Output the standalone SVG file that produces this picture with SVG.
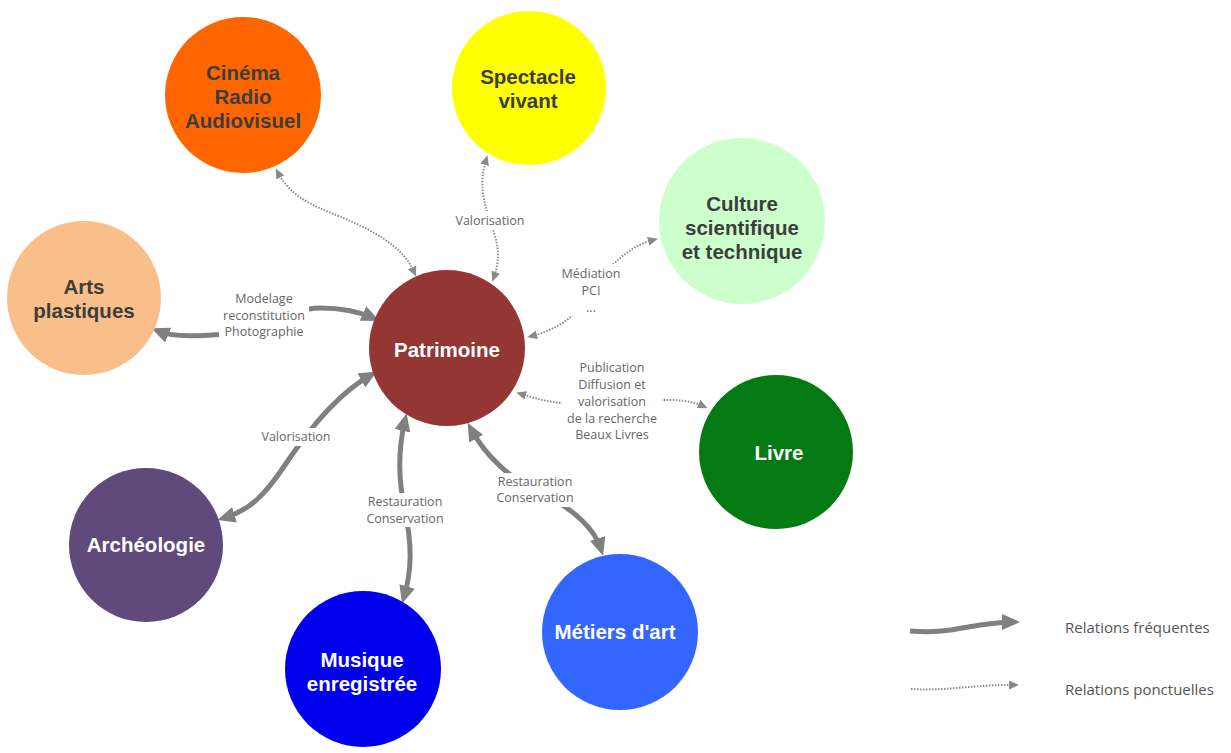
<svg xmlns="http://www.w3.org/2000/svg" width="1231" height="753" viewBox="0 0 1231 753">
<defs>
<style>
.node text{font-family:"Liberation Sans",Arial,sans-serif;font-weight:bold;font-size:20.5px;text-anchor:middle}
.dark{fill:#3d3d3d}
.light{fill:#ffffff}
.lbl{font-family:"Open Sans","Liberation Sans",sans-serif;font-size:12.5px;fill:#666666;text-anchor:middle}
.leg{font-family:"Open Sans","Liberation Sans",sans-serif;font-size:15px;fill:#555}
.thick{fill:none;stroke:#808080;stroke-width:5;marker-start:url(#ah);marker-end:url(#ah)}
.dot{fill:none;stroke:#8a8a8a;stroke-width:2;stroke-dasharray:1.5 1.5;marker-start:url(#ad);marker-end:url(#ad)}
.bg{fill:#ffffff}
</style>
<marker id="ah" markerUnits="userSpaceOnUse" markerWidth="18" markerHeight="16" refX="11" refY="8" orient="auto-start-reverse"><path d="M0,0 L18,8 L0,16 z" fill="#808080"/></marker>
<marker id="ad" markerUnits="userSpaceOnUse" markerWidth="10" markerHeight="9" refX="5" refY="4.5" orient="auto-start-reverse"><path d="M0,0 L10,4.5 L0,9 z" fill="#8a8a8a"/></marker>
</defs>
<rect width="1231" height="753" fill="#ffffff"/>
<g id="connectors">
<path class="dot" d="M 278 173 C 295 205, 330 210, 365 228 C 395 243, 408 258, 414 272"/>
<path class="dot" d="M 486 160 C 480 180, 482 195, 488 215 C 497 240, 502 255, 494 277"/>
<path class="dot" d="M 532 336 C 555 330, 575 318, 590 295 C 605 270, 625 248, 653 240"/>
<path class="dot" d="M 521 394 C 545 402, 570 406, 600 404 C 640 402, 680 395, 703 406"/>
<path class="thick" d="M 158 331 C 175 338, 200 336, 240 333 C 270 330, 290 308, 320 308 C 345 308, 360 312, 373 318"/>
<path class="thick" d="M 371 375 C 335 395, 305 435, 285 465 C 265 495, 250 510, 224 518"/>
<path class="thick" d="M 405 420 C 398 450, 398 480, 405 510 C 412 545, 412 570, 404 597"/>
<path class="thick" d="M 471 429 C 485 455, 510 480, 545 495 C 575 510, 595 530, 601 549"/>
<rect class="bg" x="452" y="211" width="76" height="18"/>
<text class="lbl" x="490" y="225">Valorisation</text>
<rect class="bg" x="560" y="264" width="62" height="52"/>
<text class="lbl" x="591" y="278">Médiation</text>
<text class="lbl" x="591" y="295">PCI</text>
<text class="lbl" x="591" y="312">...</text>
<rect class="bg" x="219" y="289" width="90" height="50"/>
<text class="lbl" x="264" y="303">Modelage</text>
<text class="lbl" x="264" y="320">reconstitution</text>
<text class="lbl" x="264" y="336">Photographie</text>
<rect class="bg" x="562" y="359" width="100" height="84"/>
<text class="lbl" x="612" y="372">Publication</text>
<text class="lbl" x="612" y="389">Diffusion et</text>
<text class="lbl" x="612" y="406">valorisation</text>
<text class="lbl" x="612" y="423">de la recherche</text>
<text class="lbl" x="612" y="439">Beaux Livres</text>
<rect class="bg" x="258" y="428" width="76" height="18"/>
<text class="lbl" x="296" y="441">Valorisation</text>
<rect class="bg" x="364" y="493" width="82" height="34"/>
<text class="lbl" x="405" y="506">Restauration</text>
<text class="lbl" x="405" y="523">Conservation</text>
<rect class="bg" x="494" y="473" width="82" height="34"/>
<text class="lbl" x="535" y="486">Restauration</text>
<text class="lbl" x="535" y="502">Conservation</text>
</g>
<g id="cinema" class="node"><circle cx="243" cy="95" r="78" fill="#ff6600"/><text class="dark" x="243" y="80">Cinéma</text><text class="dark" x="243" y="104">Radio</text><text class="dark" x="243" y="128">Audiovisuel</text></g>
<g id="spectacle" class="node"><circle cx="529" cy="88" r="77" fill="#ffff00"/><text class="dark" x="528" y="84">Spectacle</text><text class="dark" x="528" y="108">vivant</text></g>
<g id="culture" class="node"><circle cx="742" cy="221" r="83" fill="#ccffcc"/><text class="dark" x="742" y="211">Culture</text><text class="dark" x="742" y="235">scientifique</text><text class="dark" x="742" y="259">et technique</text></g>
<g id="arts" class="node"><circle cx="84" cy="298" r="77" fill="#f9bf8a"/><text class="dark" x="84" y="294">Arts</text><text class="dark" x="84" y="318">plastiques</text></g>
<g id="patrimoine" class="node"><circle cx="447" cy="348" r="78" fill="#943634"/><text class="light" x="447" y="357">Patrimoine</text></g>
<g id="livre" class="node"><circle cx="776" cy="452" r="77" fill="#037a12"/><text class="light" x="779" y="460">Livre</text></g>
<g id="archeologie" class="node"><circle cx="146" cy="545" r="77" fill="#604a7b"/><text class="light" x="146" y="552">Archéologie</text></g>
<g id="musique" class="node"><circle cx="363" cy="669" r="78" fill="#0000ee"/><text class="light" x="362" y="667">Musique</text><text class="light" x="362" y="691">enregistrée</text></g>
<g id="metiers" class="node"><circle cx="620" cy="632" r="78" fill="#3366ff"/><text class="light" x="615" y="639">Métiers d'art</text></g>
<g id="legend">
<path class="thick" style="marker-start:none" d="M 910 631 C 940 634, 960 628, 980 625 C 995 623, 1005 622, 1013 622"/>
<path class="dot" style="marker-start:none" d="M 911 689 C 940 691, 970 686, 1000 685 L 1014 685"/>
<text class="leg" x="1065" y="633">Relations fréquentes</text>
<text class="leg" x="1065" y="695">Relations ponctuelles</text>
</g>
</svg>
